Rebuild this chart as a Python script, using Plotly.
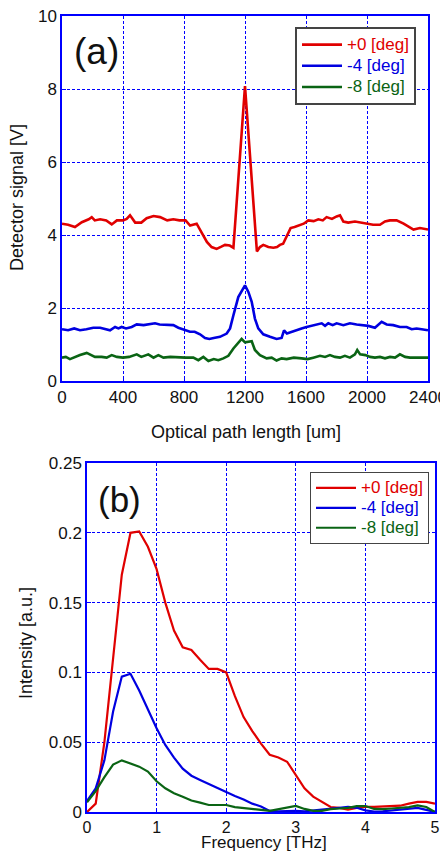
import plotly.graph_objects as go

# ---------------- data: (a) detector signal ----------------
red_a_x = [0, 40, 85, 130, 175, 195, 215, 250, 290, 326, 360, 400, 424, 446, 480, 520, 555, 600, 643, 690,
           730, 770, 810, 840, 883, 927, 950, 981, 1014, 1045, 1069, 1100, 1124, 1200, 1278, 1298, 1320, 1353, 1386, 1410,
           1429, 1450, 1499, 1525, 1550, 1585, 1615, 1650, 1681, 1710, 1735, 1770, 1801, 1823, 1845, 1877, 1921, 1955, 1998, 2040,
           2085, 2118, 2150, 2194, 2240, 2282, 2305, 2347, 2375, 2400]
red_a_y = [4.31, 4.28, 4.22, 4.35, 4.43, 4.49, 4.40, 4.43, 4.40, 4.29, 4.40, 4.40, 4.44, 4.54, 4.34, 4.34, 4.46, 4.52, 4.49, 4.40,
           4.43, 4.40, 4.40, 4.26, 4.31, 3.99, 3.81, 3.67, 3.62, 3.68, 3.73, 3.71, 3.65, 8.08, 3.55, 3.67, 3.73, 3.67, 3.65, 3.67,
           3.73, 3.76, 4.19, 4.22, 4.26, 4.31, 4.40, 4.38, 4.43, 4.40, 4.49, 4.44, 4.51, 4.54, 4.37, 4.34, 4.37, 4.34, 4.31, 4.28,
           4.28, 4.37, 4.40, 4.40, 4.31, 4.22, 4.15, 4.19, 4.17, 4.15]

blue_a_x = [0, 40, 80, 118, 160, 205, 250, 293, 315, 348, 370, 391, 420, 457, 490, 535, 580, 610, 640, 686,
            730, 763, 807, 839, 870, 905, 938, 966, 995, 1036, 1080, 1102, 1124, 1156, 1200, 1222, 1244, 1265, 1287, 1320,
            1364, 1407, 1440, 1456, 1475, 1506, 1540, 1571, 1604, 1637, 1670, 1703, 1725, 1746, 1775, 1801, 1845, 1888, 1932, 1975,
            2009, 2052, 2096, 2129, 2172, 2216, 2260, 2293, 2325, 2358, 2400]
blue_a_y = [1.42, 1.39, 1.44, 1.39, 1.42, 1.46, 1.46, 1.42, 1.39, 1.48, 1.44, 1.48, 1.44, 1.48, 1.55, 1.53, 1.55, 1.58, 1.55, 1.55,
            1.53, 1.46, 1.39, 1.35, 1.35, 1.28, 1.18, 1.15, 1.18, 1.21, 1.30, 1.44, 1.80, 2.30, 2.62, 2.44, 2.17, 1.71, 1.44, 1.28,
            1.21, 1.15, 1.18, 1.39, 1.30, 1.35, 1.39, 1.44, 1.48, 1.51, 1.53, 1.58, 1.51, 1.58, 1.53, 1.58, 1.53, 1.58, 1.55, 1.53,
            1.51, 1.46, 1.62, 1.55, 1.53, 1.48, 1.48, 1.42, 1.44, 1.42, 1.39]

green_a_x = [0, 25, 52, 85, 118, 162, 195, 216, 260, 293, 326, 360, 400, 440, 490, 520, 566, 600, 632, 665,
             710, 760, 810, 861, 894, 927, 960, 995, 1025, 1058, 1091, 1124, 1156, 1178, 1200, 1228, 1244, 1265, 1298, 1342,
             1375, 1407, 1440, 1473, 1520, 1571, 1610, 1648, 1692, 1725, 1757, 1790, 1823, 1855, 1888, 1921, 1936, 1955, 1990, 2020,
             2052, 2085, 2118, 2151, 2184, 2216, 2250, 2282, 2320, 2358, 2400]
green_a_y = [0.64, 0.66, 0.60, 0.66, 0.71, 0.77, 0.71, 0.66, 0.66, 0.64, 0.71, 0.66, 0.64, 0.66, 0.73, 0.66, 0.73, 0.64, 0.71, 0.64,
             0.66, 0.64, 0.64, 0.64, 0.57, 0.66, 0.55, 0.60, 0.57, 0.62, 0.69, 0.89, 1.03, 1.15, 1.06, 1.09, 1.09, 0.85, 0.71, 0.62,
             0.64, 0.56, 0.62, 0.60, 0.64, 0.62, 0.60, 0.64, 0.69, 0.66, 0.71, 0.66, 0.64, 0.69, 0.64, 0.73, 0.85, 0.73, 0.71, 0.66,
             0.64, 0.66, 0.62, 0.66, 0.64, 0.73, 0.66, 0.64, 0.64, 0.64, 0.64]

# ---------------- data: (b) spectrum ----------------
freq = [0.0, 0.125, 0.25, 0.375, 0.5, 0.625, 0.75, 0.875, 1.0, 1.125, 1.25, 1.375, 1.5, 1.625, 1.75, 1.875,
        2.0, 2.125, 2.25, 2.375, 2.5, 2.625, 2.75, 2.875, 3.0, 3.125, 3.25, 3.375, 3.5, 3.625, 3.75, 3.875,
        4.0, 4.125, 4.25, 4.375, 4.5, 4.625, 4.75, 4.875, 5.0]
red_b = [0.0, 0.006, 0.05, 0.11, 0.17, 0.2, 0.201, 0.19, 0.174, 0.15, 0.13, 0.118, 0.116, 0.109, 0.1025, 0.1025,
         0.1, 0.083, 0.068, 0.058, 0.049, 0.041, 0.039, 0.036, 0.026, 0.017, 0.011, 0.007, 0.0036, 0.003, 0.0017, 0.003,
         0.0036, 0.0036, 0.004, 0.0045, 0.0045, 0.006, 0.0072, 0.0072, 0.006]
blue_b = [0.008, 0.017, 0.037, 0.072, 0.097, 0.099, 0.087, 0.073, 0.06, 0.048, 0.039, 0.031, 0.026, 0.023, 0.02, 0.017,
          0.0145, 0.0115, 0.009, 0.006, 0.004, 0.0008, 0.0005, 0.0008, 0.0008, 0.0005, 0.001, 0.0015, 0.002, 0.003, 0.0036, 0.003,
          0.0012, 0.0003, 0.0005, 0.0012, 0.0018, 0.0025, 0.003, 0.0015, 0.0]
green_b = [0.007, 0.015, 0.025, 0.034, 0.037, 0.035, 0.0325, 0.029, 0.022, 0.017, 0.0135, 0.011, 0.0082, 0.0067, 0.005, 0.005,
           0.005, 0.0035, 0.003, 0.0025, 0.0015, 0.0008, 0.002, 0.003, 0.0043, 0.0022, 0.0008, 0.0008, 0.002, 0.0025, 0.003, 0.0042,
           0.0043, 0.0022, 0.002, 0.0025, 0.003, 0.0035, 0.0048, 0.0036, 0.0]

labels = ["+0 [deg]", "-4 [deg]", "-8 [deg]"]
colors = ["#e00000", "#0000e0", "#0a6414"]

# page is 448x854; the page body has an 8px margin, so the figure is drawn 8px in
OFF = 8
W, H = 448 - OFF, 854 - OFF
FONT = "Liberation Sans, Arial, sans-serif"
GRID = "#0000ff"


def px(x):
    return (x - OFF) / W


def py(y):
    return 1 - (y - OFF) / H


fig = go.Figure()


def lab(t, c, fs):
    return f"<span style='color:{c};font-size:{fs}px'>{t}</span>"


for xs, ys, nm, c in zip([red_a_x, blue_a_x, green_a_x], [red_a_y, blue_a_y, green_a_y], labels, colors):
    fig.add_trace(go.Scatter(x=xs, y=ys, mode="lines", name=lab(nm, c, 17), line=dict(color=c, width=2.6),
                             xaxis="x", yaxis="y", legend="legend"))

for ys, nm, c in zip([red_b, blue_b, green_b], labels, colors):
    fig.add_trace(go.Scatter(x=freq, y=ys, mode="lines", name=lab(nm, c, 17), line=dict(color=c, width=2.2),
                             xaxis="x2", yaxis="y2", legend="legend2"))

ax_common = dict(showline=True, mirror=True, linecolor=GRID, linewidth=1.5, automargin=False,
                 showgrid=True, gridcolor=GRID, griddash="3px,2px", gridwidth=1,
                 zeroline=False, ticks="inside", ticklen=4, tickcolor=GRID,
                 ticklabeloverflow="allow",
                 tickfont=dict(family=FONT, size=17, color="#111"))

fig.update_layout(
    width=W, height=H,
    margin=dict(l=0, r=0, t=0, b=0, autoexpand=False),
    paper_bgcolor="white", plot_bgcolor="white",
    font=dict(family=FONT, color="#111"),
    xaxis=dict(domain=[px(62), px(428)], range=[0, 2400], tickvals=[0, 400, 800, 1200, 1600, 2000, 2400],
               anchor="y", **ax_common),
    yaxis=dict(domain=[py(381), py(16)], range=[0, 10], tickvals=[0, 2, 4, 6, 8, 10],
               anchor="x", **ax_common),
    xaxis2=dict(domain=[px(87), px(435)], range=[0, 5], tickvals=[0, 1, 2, 3, 4, 5],
                anchor="y2", **ax_common),
    yaxis2=dict(domain=[py(812), py(463)], range=[0, 0.25],
                tickvals=[0, 0.05, 0.1, 0.15, 0.2, 0.25], ticktext=["0", "0.05", "0.1", "0.15", "0.2", "0.25"],
                anchor="x2", **ax_common),
    legend=dict(x=px(295), y=py(27), xanchor="left", yanchor="top",
                bgcolor="white", bordercolor="#444", borderwidth=2,
                font=dict(family=FONT, size=14), tracegroupgap=0, itemwidth=40),
    legend2=dict(x=px(310), y=py(472), xanchor="left", yanchor="top",
                 bgcolor="white", bordercolor="#444", borderwidth=1,
                 font=dict(family=FONT, size=13), tracegroupgap=0, itemwidth=40),
    showlegend=True,
)
fig.layout.xaxis2.tickfont.size = 16

annots = [
    dict(text="(a)", x=96, y=52, size=37),
    dict(text="(b)", x=119, y=500, size=35),
    dict(text="Optical path length [um]", x=246, y=432, size=18),
    dict(text="Detector signal [V]", x=17, y=198, size=18, textangle=-90),
    dict(text="Frequency [THz]", x=264, y=842, size=17),
    dict(text="Intensity [a.u.]", x=26, y=643, size=18, textangle=-90),
]
for a in annots:
    fig.add_annotation(xref="paper", yref="paper", showarrow=False, xanchor="center", yanchor="middle",
                       text=a["text"], x=px(a["x"]), y=py(a["y"]), textangle=a.get("textangle", 0),
                       font=dict(family=FONT, color="#111", size=a["size"]))

fig.write_html("out.html")
